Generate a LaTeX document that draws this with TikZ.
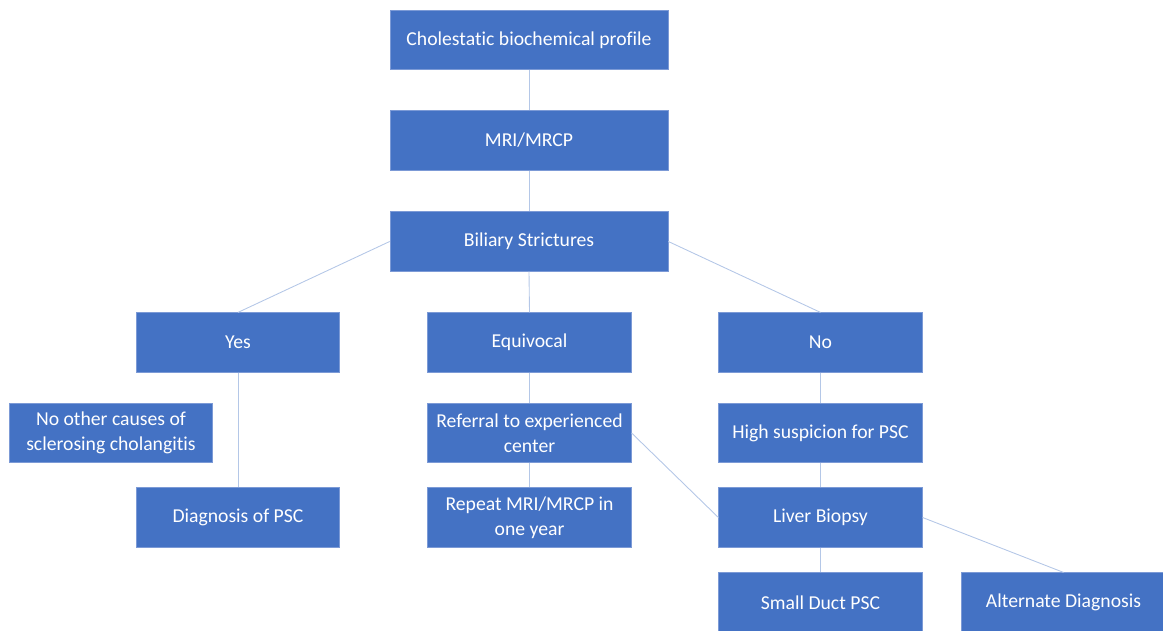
\documentclass[tikz,border=0pt]{standalone}
\usepackage{fontspec}
\setmainfont[Ligatures=NoCommon]{Carlito}
\definecolor{boxblue}{HTML}{4472C4}
\definecolor{boxedge}{HTML}{7C9AD6}
\definecolor{linkblue}{HTML}{B4C7E7}
\begin{document}
\begin{tikzpicture}
[
 every node/.style ={font=\fontsize{11.2}{14.5}\selectfont, text=white},
 B1/.style={rectangle, draw=boxedge, fill=boxblue, thin, minimum width=5.56cm, minimum height=1.19cm, align=center},
 B2/.style={rectangle, draw=boxedge, fill=boxblue, thin, minimum width=4.07cm, minimum height=1.19cm, align=center},
 L/.style={draw=linkblue, line width=0.5pt}
 ],
 %
\clip (0,0) rectangle (23.26,12.6);
\useasboundingbox (0,0) rectangle (23.26,12.6);
%
\node [B1]  (chol)   at ( 10.58, 11.8)  {Cholestatic biochemical profile};
\node [B1]  (mri)    at ( 10.58, 9.79)  {MRI/MRCP};
\node [B1]  (bil)    at ( 10.58, 7.77)  {Biliary Strictures};
%
\node [B2]  (yes)    at ( 4.76, 5.75)  {Yes};
\node [B2]  (equ)    at ( 10.59, 5.75)  {Equivocal};
\node [B2]  (no)     at ( 16.41, 5.75)  {No};
%
\node [B2]  (nocause) at ( 2.22, 3.94)  {No other causes of\\sclerosing cholangitis};
\node [B2]  (ref)    at ( 10.59, 3.94)  {Referral to experienced\\center};
\node [B2]  (high)   at ( 16.41, 3.94)  {High suspicion for PSC};
%
\node [B2]  (diag)   at ( 4.76, 2.25)  {Diagnosis of PSC};
\node [B2]  (rep)    at ( 10.59, 2.25)  {Repeat MRI/MRCP in\\one year};
\node [B2]  (biop)   at ( 16.41, 2.25)  {Liver Biopsy};
%
\node [B2]  (small)  at ( 16.41, 0.55)  {Small Duct PSC};
\node [B2]  (alt)    at ( 21.27, 0.55)  {Alternate Diagnosis};
%
\draw [L]  (chol.south) -- (mri.north) ;
\draw [L]  (mri.south) -- (bil.north) ;
\draw [L]  (bil.west) -- (yes.north) ;
\draw [L]  (bil.south) -- (equ.north) ;
\draw [L]  (bil.east) -- (no.north) ;
%
\draw [L]  (yes.south) -- (diag.north) ;
\draw [L]  (equ.south) -- (ref.north) ;
\draw [L]  (ref.south) -- (rep.north) ;
\draw [L]  (ref.east) -- (biop.west) ;
\draw [L]  (no.south) -- (high.north) ;
\draw [L]  (high.south) -- (biop.north) ;
\draw [L]  (biop.south) -- (small.north) ;
\draw [L]  (biop.east) -- (alt.north) ;
%
\end{tikzpicture}
\end{document}
